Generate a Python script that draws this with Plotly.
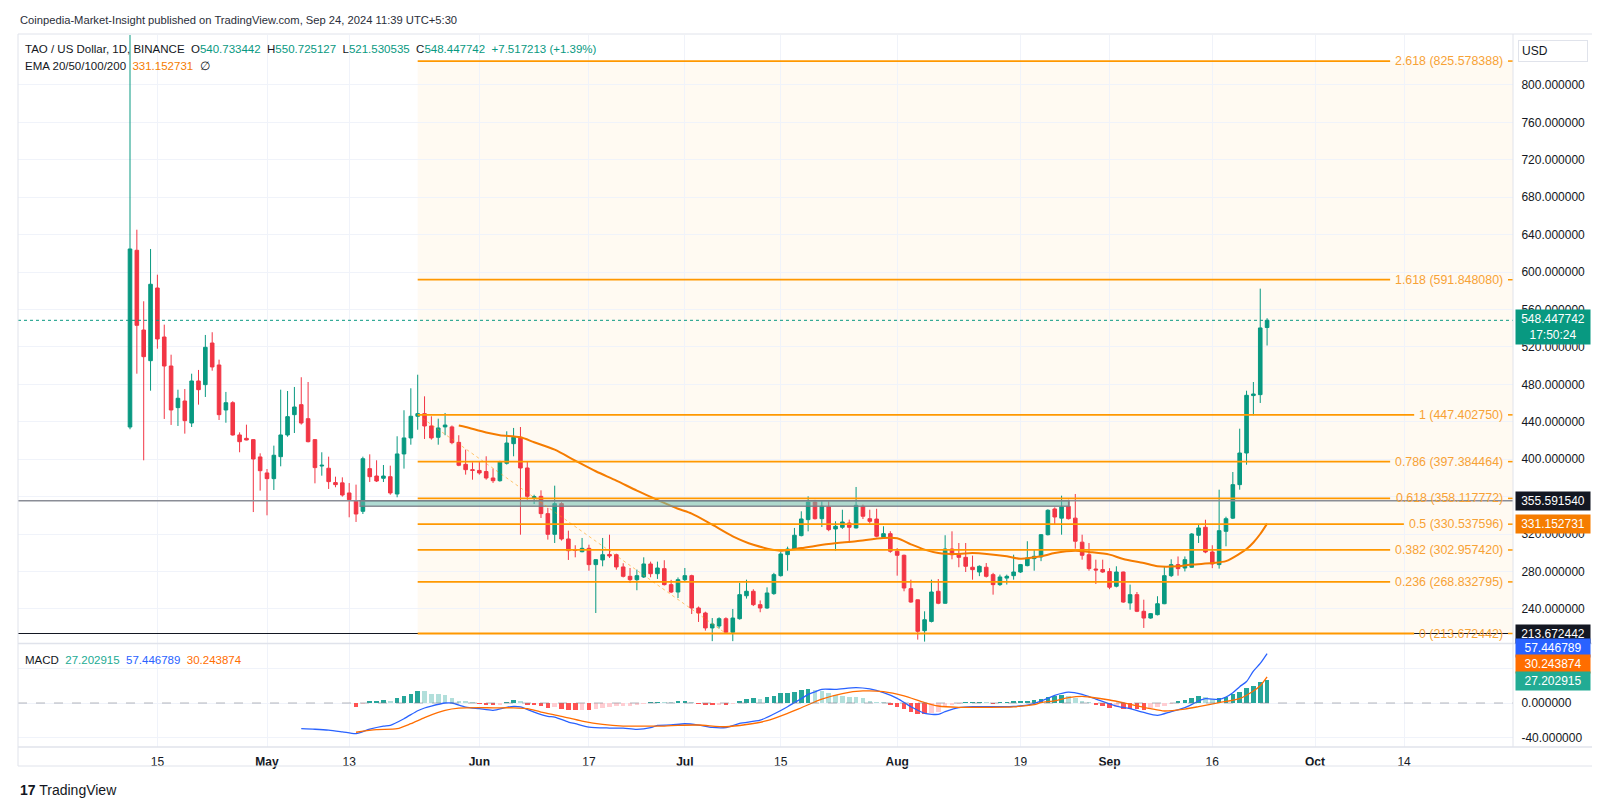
import plotly.graph_objects as go
import pandas as pd

# ---------------- DATA ----------------
start = pd.Timestamp("2024-04-11")

opens = [434.4, 623.3, 538.1, 505.3, 583.0, 530.6, 499.6, 455.1, 462.2, 438.7,
         483.6, 479.7, 524.2, 500.7, 452.6, 460.4, 425.9, 422.3, 420.9, 402.4,
         385.3, 379.2, 402.7, 425.9, 447.6, 458.3, 443.3, 420.9, 392.7, 390.3,
         375.0, 374.7, 363.9, 355.6, 344.3, 389.9, 382.0, 379.6, 381.3, 362.8,
         405.6, 422.7, 445.9, 448.7, 435.5, 423.4, 434.5, 434.5, 418.0, 394.5,
         388.8, 388.0, 386.8, 379.9, 377.0, 395.6, 416.6, 423.4, 390.6, 358.0,
         360.3, 341.8, 319.7, 352.5, 314.7, 303.5, 301.1, 304.7, 287.3, 292.3,
         298.2, 297.9, 284.8, 274.8, 271.2, 274.1, 288.0, 277.6, 283.0, 265.9,
         258.0, 271.2, 275.5, 240.9, 235.6, 219.6, 221.7, 229.5, 215.0, 229.5,
         254.0, 258.8, 244.5, 240.9, 256.3, 275.5, 298.0, 303.3, 318.3, 335.4,
         354.3, 336.4, 349.0, 325.4, 327.2, 331.8, 326.5, 349.6, 336.4, 336.0,
         316.5, 320.4, 301.6, 297.3, 261.6, 249.7, 216.7, 226.6, 258.8, 246.0,
         304.0, 297.9, 295.1, 284.5, 279.4, 284.5, 276.6, 265.9, 272.9, 275.5,
         279.4, 286.2, 293.7, 295.5, 319.3, 346.8, 337.0, 349.6, 337.0, 311.3,
         297.9, 282.6, 282.0, 280.0, 264.2, 279.4, 246.3, 255.2, 237.4, 230.2,
         233.8, 245.5, 275.5, 287.3, 283.7, 284.5, 318.7, 327.2, 300.8, 287.3,
         322.9, 337.0, 372.8, 406.6, 468.0, 469.0, 540.733442]
highs = [870.0, 645.3, 568.8, 624.7, 597.2, 543.8, 511.7, 474.3, 475.0, 491.4,
         495.4, 532.8, 535.7, 506.4, 471.9, 462.0, 428.7, 436.9, 421.5, 406.3,
         389.5, 414.5, 474.3, 472.9, 477.2, 487.6, 482.5, 421.5, 407.4, 402.7,
         381.3, 380.6, 374.5, 372.8, 402.7, 405.2, 398.8, 393.8, 393.1, 424.5,
         452.3, 475.8, 490.3, 467.2, 445.9, 443.3, 449.4, 436.0, 425.6, 410.2,
         396.7, 397.0, 403.1, 390.0, 398.3, 429.8, 433.4, 434.4, 397.0, 362.0,
         366.7, 347.9, 371.7, 354.0, 323.6, 308.0, 315.8, 308.6, 293.0, 315.8,
         319.3, 299.0, 288.8, 283.7, 282.0, 295.1, 290.5, 290.5, 292.0, 271.0,
         273.6, 283.7, 276.5, 242.5, 237.0, 230.2, 231.0, 231.0, 239.9, 267.7,
         271.2, 261.0, 249.0, 263.0, 278.5, 301.0, 306.5, 326.5, 344.3, 360.3,
         356.5, 355.2, 355.2, 333.6, 346.0, 335.4, 370.3, 351.5, 346.0, 347.0,
         328.3, 323.0, 305.0, 298.0, 271.2, 250.0, 237.4, 271.2, 271.9, 318.7,
         322.9, 310.4, 310.4, 296.9, 286.5, 289.0, 278.5, 276.6, 276.6, 297.9,
         288.0, 312.3, 304.0, 320.0, 346.5, 348.5, 361.0, 356.7, 362.8, 319.3,
         310.4, 292.6, 292.6, 283.5, 285.5, 279.8, 265.9, 258.0, 249.8, 235.5,
         253.5, 285.5, 293.0, 296.0, 296.0, 321.0, 330.0, 335.3, 308.0, 367.4,
         338.5, 386.3, 432.6, 473.2, 482.5, 582.3, 550.725127]
lows = [432.0, 491.4, 398.8, 473.2, 518.1, 443.0, 436.6, 435.5, 427.3, 434.4,
        458.3, 466.5, 494.6, 441.9, 439.0, 425.2, 407.4, 420.2, 343.5, 366.4,
        340.0, 367.1, 392.4, 424.0, 428.0, 437.0, 418.0, 374.2, 382.4, 368.2,
        370.0, 360.0, 337.9, 332.9, 341.4, 375.6, 375.6, 375.6, 362.0, 359.3,
        389.9, 415.5, 431.5, 421.6, 420.9, 415.5, 425.6, 416.0, 392.5, 383.5,
        378.1, 383.5, 378.1, 374.6, 376.0, 394.2, 403.1, 319.3, 356.7, 352.1,
        337.2, 314.0, 310.4, 313.0, 292.3, 295.1, 300.5, 280.8, 235.6, 285.5,
        294.4, 281.9, 273.6, 267.7, 259.9, 273.0, 273.8, 272.0, 265.0, 257.0,
        251.6, 269.0, 234.5, 226.0, 216.7, 205.5, 219.0, 214.0, 205.5, 228.5,
        251.0, 243.0, 236.4, 240.0, 255.0, 274.5, 280.8, 303.0, 317.5, 322.9,
        335.5, 327.5, 323.0, 302.2, 325.5, 310.4, 326.0, 336.0, 331.0, 316.5,
        315.0, 300.0, 275.5, 258.8, 246.5, 207.1, 205.0, 225.5, 245.0, 245.5,
        293.0, 284.5, 279.4, 271.2, 275.0, 273.5, 255.2, 264.5, 266.0, 271.2,
        278.5, 285.5, 280.8, 291.0, 318.5, 330.0, 319.3, 335.5, 304.3, 292.6,
        280.8, 266.6, 278.5, 261.0, 263.0, 246.5, 239.1, 236.5, 219.6, 229.5,
        233.0, 245.0, 274.0, 275.5, 280.0, 284.0, 310.4, 299.5, 283.5, 283.0,
        306.9, 336.0, 367.4, 394.1, 446.9, 460.1, 521.530535]
closes = [624.7, 543.1, 509.6, 587.0, 528.5, 499.6, 452.6, 465.1, 441.2, 483.6,
          474.3, 519.6, 498.6, 447.6, 460.4, 425.9, 418.7, 420.5, 400.2, 387.7,
          379.2, 404.2, 425.9, 445.5, 455.8, 438.7, 418.7, 391.0, 393.5, 376.0,
          372.8, 361.7, 356.7, 341.4, 400.5, 381.3, 376.7, 382.0, 363.9, 405.6,
          422.7, 445.9, 448.7, 435.5, 422.7, 433.4, 436.5, 417.7, 393.5, 388.8,
          388.0, 385.3, 379.9, 377.0, 397.0, 417.3, 423.4, 390.6, 360.3, 360.0,
          341.8, 319.7, 352.5, 314.7, 302.2, 302.5, 304.7, 287.3, 292.6, 297.9,
          296.5, 284.8, 274.8, 271.2, 275.5, 288.0, 277.6, 283.7, 265.9, 258.0,
          271.2, 275.5, 240.9, 235.6, 219.6, 223.8, 229.5, 215.0, 230.2, 255.2,
          258.8, 244.5, 240.9, 257.0, 276.6, 298.7, 304.0, 318.7, 336.1, 354.3,
          336.4, 349.7, 324.7, 328.3, 332.9, 327.2, 350.7, 339.0, 333.6, 317.6,
          320.4, 301.6, 297.3, 262.3, 247.3, 216.0, 228.4, 258.0, 246.0, 304.0,
          297.9, 295.1, 285.5, 281.9, 285.5, 274.8, 265.9, 274.1, 274.8, 279.4,
          287.3, 294.4, 296.2, 319.3, 345.4, 338.2, 348.9, 336.4, 312.3, 297.3,
          283.0, 281.6, 279.4, 263.1, 279.4, 247.3, 255.2, 237.4, 230.2, 234.9,
          245.5, 275.5, 287.3, 283.0, 292.6, 320.0, 326.5, 300.8, 288.0, 323.6,
          336.4, 372.8, 406.6, 468.3, 469.7, 540.3, 548.447742]

# EMA, day index from Apr 11
ema_days = [48, 49, 52, 54, 57, 59, 62, 65, 68, 71, 74, 77, 80, 82, 85, 88, 91, 95, 98,
            102, 106, 110, 112, 114, 116, 118, 121, 123, 128, 130, 133, 135, 138,
            140, 143, 145, 148, 150, 153, 155, 158, 160, 162, 163, 164, 165, 166]
ema_vals = [436.0, 434.4, 428.5, 425.6, 423.4, 418.1, 410.2, 398.5, 387.1, 377.1, 366.4,
            356.5, 347.0, 341.8, 330.0, 317.6, 308.6, 302.2, 305.0, 309.3, 312.3,
            315.8, 315.5, 309.0, 303.3, 299.7, 298.7, 299.7, 296.2, 293.6, 296.2,
            299.7, 302.2, 300.8, 298.0, 293.3, 289.0, 285.5, 285.5, 287.3, 289.0,
            291.0, 299.0, 304.0, 311.0, 320.0, 331.152731]

# MACD pane
macd_days = [25, 27, 29, 31, 33, 35, 37, 38, 40, 42, 43, 44, 46, 47, 49, 51, 53, 55,
             56, 57, 59, 61, 62, 64, 65, 67, 70, 72, 74, 76, 77, 79, 81, 83, 85, 87,
             89, 92, 94, 96, 97, 98, 99, 100, 101, 103, 106, 108, 110, 112, 114,
             116, 118, 119, 121, 123, 127, 129, 131, 133, 134, 135, 137, 139, 141,
             143, 144, 146, 148, 150, 152, 154, 156, 157, 159, 160, 161, 162, 163,
             164, 165, 166]
macd_vals = [-29.9, -30.5, -31.5, -33.5, -35.7, -30.5, -27.0, -26.0, -18.3, -9.0,
             -5.8, -3.5, 0.0, 0.0, -4.7, -6.6, -8.5, -5.0, -3.9, -4.5, -10.5, -15.5,
             -16.3, -22.1, -24.0, -28.0, -29.1, -29.3, -30.7, -28.7, -26.0, -25.5,
             -24.1, -25.6, -28.4, -28.5, -23.7, -20.0, -12.8, -4.3, 0.5, 5.0, 10.0,
             13.0, 15.9, 15.9, 17.9, 16.3, 12.0, 5.4, -4.3, -12.0, -13.2, -10.1,
             -5.4, -4.3, -4.3, -4.0, -2.5, 2.3, 5.5, 8.9, 12.7, 10.0, 4.5, -1.0,
             -3.5, -6.6, -11.0, -14.3, -10.0, -5.4, 2.3, 5.0, 4.2, 7.0, 12.0, 19.0,
             25.0, 37.1, 46.0, 57.446789]
signal_days = [33, 36, 39, 41, 43, 45, 46, 48, 51, 53, 56, 58, 60, 63, 66, 69, 72,
               75, 78, 80, 83, 87, 90, 93, 96, 98, 101, 104, 107, 110, 113, 116,
               118, 121, 125, 129, 132, 133, 135, 137, 139, 140, 143, 146, 149, 151,
               154, 156, 159, 162, 164, 165, 166]
signal_vals = [-34.0, -31.0, -29.9, -24.0, -17.0, -11.0, -8.5, -6.0, -5.4, -5.6,
               -5.6, -6.6, -10.5, -15.5, -21.0, -24.9, -26.8, -27.0, -26.8, -26.0,
               -25.6, -27.6, -25.0, -20.6, -12.0, -5.5, 4.5, 11.0, 14.0, 13.2, 8.2,
               0.4, -3.5, -5.0, -5.0, -4.5, -2.0, 0.4, 2.5, 6.2, 7.8, 7.0, 3.5, -1.5,
               -6.6, -9.3, -7.0, -4.2, 0.4, 5.0, 13.9, 20.0, 30.243874]
hist_first_day = 33
hist_vals = [-4.7, -0.8, 1.2, 1.9, 3.1, 2.7, 6.2, 8.2, 10.9, 13.6, 13.4, 10.9, 10.1,
             8.9, 5.8, 2.3, 1.2, 0.4, -0.4, -1.2, -2.3, -1.2, 0.8, 3.1, 1.9, -1.2,
             -1.9, -3.5, -5.8, -4.7, -7.4, -8.5, -8.6, -7.8, -7.9, -7.4, -5.8, -4.7,
             -3.9, -3.8, -3.7, -2.7, -0.2, 0.4, 0.8, 0.6, 0.4, 1.2, 1.9, 0.4, -0.4,
             -1.2, -2.3, -1.2, -1.6, -0.3, 2.3, 4.3, 5.4, 5.2, 6.6, 8.2, 11.3, 12.0,
             13.2, 15.2, 15.9, 15.2, 14.4, 11.3, 9.3, 8.2, 7.4, 6.6, 5.4, 2.7, 0.8,
             0.1, -2.3, -4.3, -7.4, -10.1, -12.8, -12.9, -12.0, -10.9, -4.3, -2.7,
             -0.5, 0.8, 0.8, 0.8, 0.4, -0.4, 0.3, 0.4, 1.2, 1.3, 2.3, 3.1, 5.0, 6.9,
             8.1, 9.3, 8.1, 5.4, 2.3, 0.1, -2.3, -3.5, -5.4, -4.2, -6.6, -7.3, -7.4,
             -8.5, -5.4, -4.2, -3.5, -0.1, 1.9, 3.1, 5.8, 8.1, 7.3, 4.2, 5.8, 6.9,
             10.0, 13.1, 17.8, 19.7, 24.7, 27.202915]

# Fibonacci retracement
fib_ratios = ["2.618", "1.618", "1", "0.786", "0.618", "0.5", "0.382", "0.236", "0"]
fib_levels = [825.578388, 591.848080, 447.402750, 397.384464, 358.117772,
              330.537596, 302.957420, 268.832795, 213.672442]
fib_start_day = 42
trend_start = (42, 447.402750)
trend_end = (87, 213.672442)

hline_grey = 355.591540
band_days = (33.6, 137.1)
band_low = 349.8
last_price = 548.447742

price_ticks = [240, 280, 320, 360, 400, 440, 480, 520, 560, 600, 640, 680, 720, 760, 800]
hidden_price_ticks = [360]          # covered by the price box in the reference
macd_ticks = [-40, 0, 40]
hidden_macd_ticks = [40]            # covered by the MACD value boxes
xtick_dates = ["2024-04-15", "2024-05-01", "2024-05-13", "2024-06-01", "2024-06-17",
               "2024-07-01", "2024-07-15", "2024-08-01", "2024-08-19", "2024-09-01",
               "2024-09-16", "2024-10-01", "2024-10-14"]
xtick_text = ["15", "<b>May</b>", "13", "<b>Jun</b>", "17", "<b>Jul</b>", "15",
              "<b>Aug</b>", "19", "<b>Sep</b>", "16", "<b>Oct</b>", "14"]

# ---------------- LAYOUT HELPERS ----------------
W, H = 1600, 798
L_PX, R_PX, T_PX, B_PX = 10, 1505, 27, 739
PRICE_BOTTOM_PX, MACD_TOP_PX = 635, 636
day_left, day_right = -16.35, 201.9

def d2t(d):
    return start + pd.Timestamp(0).tz_localize(None) * 0 + pd.Timedelta(days=d) if False else start + pd.Timedelta(days=d)

def pxx(px):
    return (px - L_PX) / (R_PX - L_PX)

def pxy(py):
    return (B_PX - py) / (B_PX - T_PX)

def day2px(d):
    return L_PX + (d - day_left) / (day_right - day_left) * (R_PX - L_PX)

FONT = "Liberation Sans, Arial, sans-serif"
TXT = "#131722"
GRID = "#f0f3fa"
UP, DOWN = "#089981", "#f23645"
FIB = "#ff9800"
EMA_C = "#f57c00"

dates = [d2t(i) for i in range(len(opens))]

fig = go.Figure()

fig.add_trace(go.Candlestick(
    x=dates, open=opens, high=highs, low=lows, close=closes,
    increasing=dict(line=dict(color=UP, width=1), fillcolor=UP),
    decreasing=dict(line=dict(color=DOWN, width=1), fillcolor=DOWN),
    whiskerwidth=0, xaxis="x", yaxis="y", showlegend=False, hoverinfo="skip"))

fig.add_trace(go.Scatter(
    x=[d2t(d) for d in ema_days], y=ema_vals, mode="lines",
    line=dict(color=EMA_C, width=2, shape="spline", smoothing=0.8),
    xaxis="x", yaxis="y", showlegend=False, hoverinfo="skip"))

# histogram colours (TradingView rule: growing/falling)
hcols = []
prev = 0.0
for v in hist_vals:
    if v >= 0:
        hcols.append("#26a69a" if v >= prev else "#b2dfdb")
    else:
        hcols.append("#ff5252" if v <= prev else "#ffcdd2")
    prev = v
hist_dates = [d2t(hist_first_day + i) for i in range(len(hist_vals))]
fig.add_trace(go.Bar(
    x=hist_dates, y=hist_vals, marker=dict(color=hcols, line=dict(width=0)),
    width=0.66 * 86400000, xaxis="x2", yaxis="y2", showlegend=False, hoverinfo="skip"))
fig.add_trace(go.Scatter(
    x=[d2t(d) for d in macd_days], y=macd_vals, mode="lines",
    line=dict(color="#2962ff", width=1.3, shape="spline", smoothing=0.7),
    xaxis="x2", yaxis="y2", showlegend=False, hoverinfo="skip"))
fig.add_trace(go.Scatter(
    x=[d2t(d) for d in signal_days], y=signal_vals, mode="lines",
    line=dict(color="#ff6d00", width=1.3, shape="spline", smoothing=0.7),
    xaxis="x2", yaxis="y2", showlegend=False, hoverinfo="skip"))

shapes = []
annotations = []

# fib background
fib_x0 = pxx(day2px(fib_start_day))
shapes.append(dict(type="rect", xref="paper", yref="y", x0=fib_x0, x1=1,
                   y0=fib_levels[-1], y1=fib_levels[0], fillcolor="rgba(255,152,0,0.05)",
                   line=dict(width=0), layer="below"))

# black line at 0 level, grey line
shapes.append(dict(type="line", xref="paper", yref="y", x0=0, x1=1,
                   y0=fib_levels[-1], y1=fib_levels[-1], line=dict(color=TXT, width=1.2)))
shapes.append(dict(type="line", xref="paper", yref="y", x0=0, x1=1,
                   y0=hline_grey, y1=hline_grey, line=dict(color="#8a8d96", width=1.5)))
# teal/grey band
shapes.append(dict(type="rect", xref="paper", yref="y",
                   x0=pxx(day2px(band_days[0])), x1=pxx(day2px(band_days[1])),
                   y0=band_low, y1=hline_grey, fillcolor="rgba(110,190,175,0.55)",
                   line=dict(color="rgba(120,123,134,0.85)", width=1.5)))

# fib lines + labels
cw = {".": 3.34, " ": 3.34, "(": 4.0, ")": 4.0}
LABEL_RIGHT = 1497
for r, v in zip(fib_ratios, fib_levels):
    txt = f"{r} ({v:.6f})"
    width = sum(cw.get(ch, 6.67) for ch in txt) * 1.03
    x_end = LABEL_RIGHT - width - 7
    shapes.append(dict(type="line", xref="paper", yref="y", x0=fib_x0, x1=pxx(x_end),
                       y0=v, y1=v, line=dict(color=FIB, width=1.8)))
    shapes.append(dict(type="line", xref="paper", yref="y", x0=pxx(1500), x1=1,
                       y0=v, y1=v, line=dict(color=FIB, width=1.5)))
    annotations.append(dict(xref="paper", yref="y", x=pxx(LABEL_RIGHT), y=v, text=txt,
                            xanchor="right", yanchor="middle", showarrow=False,
                            font=dict(family=FONT, size=12.4, color="#f7a235")))

# dotted trend line of the fib
shapes.append(dict(type="line", xref="x", yref="y", x0=d2t(trend_start[0]), y0=trend_start[1],
                   x1=d2t(trend_end[0]), y1=trend_end[1],
                   line=dict(color="rgba(255,152,0,0.55)", width=1, dash="dot")))

# current price dotted line
shapes.append(dict(type="line", xref="paper", yref="y", x0=0, x1=1, y0=last_price, y1=last_price,
                   line=dict(color=UP, width=1, dash="dot")))

# MACD zero dashed line
shapes.append(dict(type="line", xref="paper", yref="y2", x0=0, x1=1, y0=0, y1=0,
                   line=dict(color="rgba(120,123,134,0.55)", width=1, dash="dash")))

# frame lines
fc = "#e0e3eb"
shapes.append(dict(type="line", xref="paper", yref="paper", x0=pxx(10), x1=pxx(1592),
                   y0=pxy(PRICE_BOTTOM_PX + 0.5), y1=pxy(PRICE_BOTTOM_PX + 0.5), line=dict(color=fc, width=1.5)))
shapes.append(dict(type="line", xref="paper", yref="paper", x0=pxx(10), x1=pxx(1592),
                   y0=pxy(739), y1=pxy(739), line=dict(color=fc, width=1.5)))
shapes.append(dict(type="rect", xref="paper", yref="paper", x0=pxx(10), x1=pxx(1592),
                   y0=pxy(758), y1=pxy(26), line=dict(color=fc, width=1)))
shapes.append(dict(type="line", xref="paper", yref="paper", x0=1, x1=1,
                   y0=pxy(26), y1=pxy(739), line=dict(color=fc, width=1)))

# axis price boxes
def box(y, yref, text, bg, fg="white", yshift=0, yanchor="middle"):
    annotations.append(dict(xref="paper", yref=yref, x=pxx(1507), y=y, text=text,
                            xanchor="left", yanchor=yanchor, yshift=yshift, showarrow=False,
                            bgcolor=bg, borderpad=2, width=70, align="center",
                            font=dict(family=FONT, size=12, color=fg)))

box(last_price, "y", f"{last_price:.6f}<br>17:50:24", UP, yanchor="top", yshift=11)
box(hline_grey, "y", f"{hline_grey:.6f}", TXT)
box(ema_vals[-1], "y", f"{ema_vals[-1]:.6f}", EMA_C)
box(fib_levels[-1], "y", f"{fib_levels[-1]:.6f}", TXT)
box(pxy(640), "paper", f"{macd_vals[-1]:.6f}", "#2962ff")
box(pxy(656), "paper", f"{signal_vals[-1]:.6f}", "#ff6d00")
box(pxy(673), "paper", f"{hist_vals[-1]:.6f}", "#22ab94")

# USD box
annotations.append(dict(xref="paper", yref="paper", x=pxx(1510), y=pxy(43), text="USD",
                        xanchor="left", yanchor="middle", showarrow=False, bgcolor="white",
                        bordercolor="#e0e3eb", borderwidth=1, borderpad=3, width=62, align="left",
                        font=dict(family=FONT, size=12, color=TXT)))

# header and legends
annotations.append(dict(xref="paper", yref="paper", x=pxx(10), y=pxy(12),
                        text="Coinpedia-Market-Insight published on TradingView.com, Sep 24, 2024 11:39 UTC+5:30",
                        xanchor="left", yanchor="middle", showarrow=False,
                        font=dict(family=FONT, size=11.2, color="#2a2e39")))
g = "#089981"
leg1 = ("TAO / US Dollar, 1D, BINANCE  "
        f"O<span style='color:{g}'>{opens[-1]:.6f}</span>  "
        f"H<span style='color:{g}'>{highs[-1]:.6f}</span>  "
        f"L<span style='color:{g}'>{lows[-1]:.6f}</span>  "
        f"C<span style='color:{g}'>{closes[-1]:.6f}</span>  "
        f"<span style='color:{g}'>+7.517213 (+1.39%)</span>")
annotations.append(dict(xref="paper", yref="paper", x=pxx(15), y=pxy(41), text=leg1,
                        xanchor="left", yanchor="middle", showarrow=False,
                        font=dict(family=FONT, size=11.5, color=TXT)))
leg2 = f"EMA 20/50/100/200  <span style='color:{EMA_C}'>{ema_vals[-1]:.6f}</span>  ∅"
annotations.append(dict(xref="paper", yref="paper", x=pxx(15), y=pxy(58), text=leg2,
                        xanchor="left", yanchor="middle", showarrow=False,
                        font=dict(family=FONT, size=11.5, color=TXT)))
leg3 = (f"MACD  <span style='color:#22ab94'>{hist_vals[-1]:.6f}</span>  "
        f"<span style='color:#2962ff'>{macd_vals[-1]:.6f}</span>  "
        f"<span style='color:#ff6d00'>{signal_vals[-1]:.6f}</span>")
annotations.append(dict(xref="paper", yref="paper", x=pxx(15), y=pxy(652), text=leg3,
                        xanchor="left", yanchor="middle", showarrow=False,
                        font=dict(family=FONT, size=11.5, color=TXT)))
annotations.append(dict(xref="paper", yref="paper", x=pxx(10), y=pxy(782),
                        text="<b>17</b> TradingView", xanchor="left", yanchor="middle",
                        showarrow=False, font=dict(family=FONT, size=14, color=TXT)))

xr = [d2t(day_left), d2t(day_right)]
pr_lo = 213.672442 - (PRICE_BOTTOM_PX - 625.5) / 0.9355
pr_hi = 213.672442 + (625.5 - T_PX) / 0.9355
m_scale = 0.86
m_hi = (695 - MACD_TOP_PX) / m_scale
m_lo = (695 - B_PX) / m_scale

fig.update_layout(
    width=W, height=H, paper_bgcolor="white", plot_bgcolor="white",
    margin=dict(l=L_PX, r=W - R_PX, t=T_PX, b=H - B_PX, pad=0),
    showlegend=False, bargap=0, boxgap=0.25,
    font=dict(family=FONT, size=12, color=TXT),
    xaxis=dict(domain=[0, 1], range=xr, anchor="y", showticklabels=False,
               tickvals=xtick_dates, showgrid=True, gridcolor=GRID, gridwidth=1,
               zeroline=False, showline=False, rangeslider=dict(visible=False), fixedrange=True),
    xaxis2=dict(domain=[0, 1], range=xr, anchor="y2", matches="x",
                tickvals=xtick_dates, ticktext=xtick_text, showgrid=True, gridcolor=GRID,
                zeroline=False, showline=False, ticks="outside", ticklen=4,
                tickcolor="rgba(0,0,0,0)", tickfont=dict(family=FONT, size=12, color=TXT)),
    yaxis=dict(domain=[pxy(PRICE_BOTTOM_PX), 1], range=[pr_lo, pr_hi], side="right",
               anchor="x", tickvals=price_ticks,
               ticktext=["" if t in hidden_price_ticks else f"{t:.6f}" for t in price_ticks],
               showgrid=True, gridcolor=GRID, zeroline=False, showline=False,
               ticks="outside", ticklen=5, tickcolor="rgba(0,0,0,0)",
               tickfont=dict(family=FONT, size=12, color=TXT)),
    yaxis2=dict(domain=[0, pxy(MACD_TOP_PX)], range=[m_lo, m_hi], side="right", anchor="x2",
                tickvals=macd_ticks,
                ticktext=["" if t in hidden_macd_ticks else f"{t:.6f}" for t in macd_ticks],
                showgrid=True, gridcolor=GRID, zeroline=False, showline=False,
                ticks="outside", ticklen=5, tickcolor="rgba(0,0,0,0)",
                tickfont=dict(family=FONT, size=12, color=TXT)),
    shapes=shapes, annotations=annotations,
)

fig.write_html("out.html")
